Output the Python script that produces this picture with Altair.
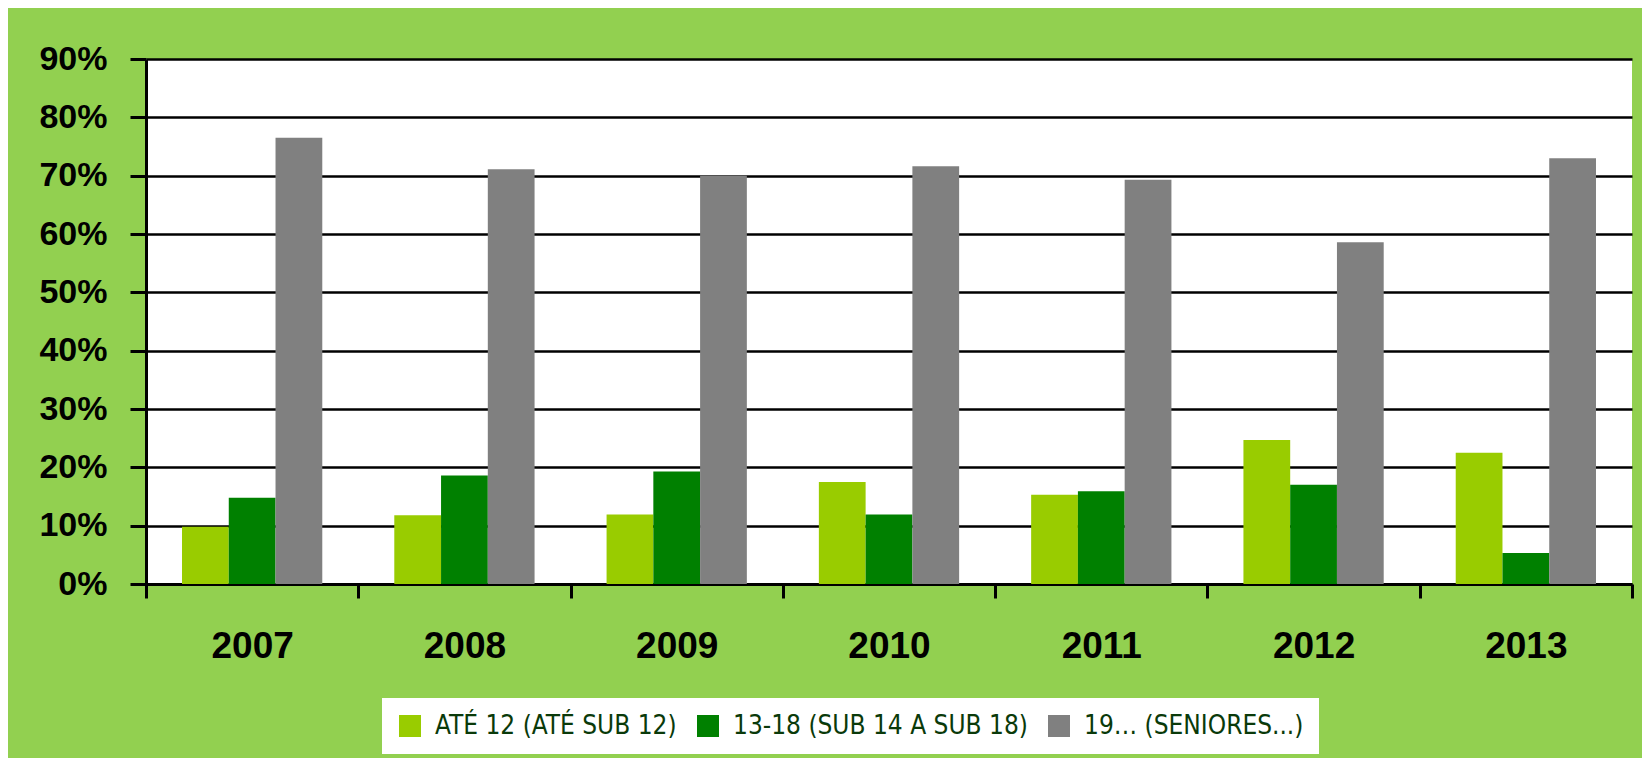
import altair as alt
import pandas as pd

years = ["2007", "2008", "2009", "2010", "2011", "2012", "2013"]
series_names = ["ATÉ 12 (ATÉ SUB 12)", "13-18 (SUB 14 A SUB 18)", "19… (SENIORES...)"]
ate12 = [9.8, 11.8, 11.9, 17.5, 15.3, 24.7, 22.5]
sub14_18 = [14.8, 18.6, 19.3, 11.9, 15.9, 17.0, 5.3]
seniores = [76.5, 71.1, 70.0, 71.6, 69.3, 58.6, 73.0]
colors = ["#99CC00", "#008000", "#808080"]
y_ticks = [0, 0.1, 0.2, 0.3, 0.4, 0.5, 0.6, 0.7, 0.8, 0.9]

rows = []
for vals, name in zip([ate12, sub14_18, seniores], series_names):
    for yr, v in zip(years, vals):
        rows.append({"ano": yr, "serie": name, "valor": v / 100.0})
df = pd.DataFrame(rows)

chart = alt.Chart(df).mark_bar().encode(
    x=alt.X("ano:N", sort=years,
            scale=alt.Scale(paddingInner=0, paddingOuter=0),
            axis=alt.Axis(title=None, labelAngle=0, tickBand="extent",
                          labelFont="Liberation Sans", labelFontWeight="bold",
                          labelFontSize=37, labelColor="black", labelPadding=30,
                          tickSize=14, tickWidth=3, tickColor="black",
                          domainColor="black", domainWidth=3, grid=False)),
    xOffset=alt.XOffset("serie:N", sort=series_names,
                        scale=alt.Scale(paddingInner=0, paddingOuter=0.77)),
    y=alt.Y("valor:Q",
            scale=alt.Scale(domain=[0, 0.9], nice=False),
            axis=alt.Axis(title=None, format=".0%", values=y_ticks,
                          labelFont="Liberation Sans", labelFontWeight="bold",
                          labelFontSize=34, labelColor="black", labelPadding=23,
                          tickSize=16, tickWidth=3, tickColor="black",
                          domainColor="black", domainWidth=3,
                          grid=True, gridColor="black", gridWidth=2.5, gridOpacity=1)),
    color=alt.Color("serie:N", sort=series_names,
                    scale=alt.Scale(domain=series_names, range=colors),
                    legend=alt.Legend(title=None, orient="none", legendX=236, legendY=639,
                                      direction="horizontal", columns=3,
                                      fillColor="white", padding=15,
                                      symbolType="square", symbolSize=484,
                                      symbolStrokeWidth=0, symbolOpacity=1,
                                      labelFont="DejaVu Sans Condensed",
                                      labelFontSize=26, labelColor="#0A3A0A",
                                      labelOffset=12, columnPadding=18, labelLimit=500)),
).properties(
    width=1486,
    height=525,
    background="#92D050",
    padding={"left": 138, "top": 51, "right": 10, "bottom": 174},
    autosize=alt.AutoSizeParams(type="none"),
).configure_view(
    stroke=None,
    fill="white",
)

chart.save("out.html", embed_options={"renderer": "svg", "actions": False})
